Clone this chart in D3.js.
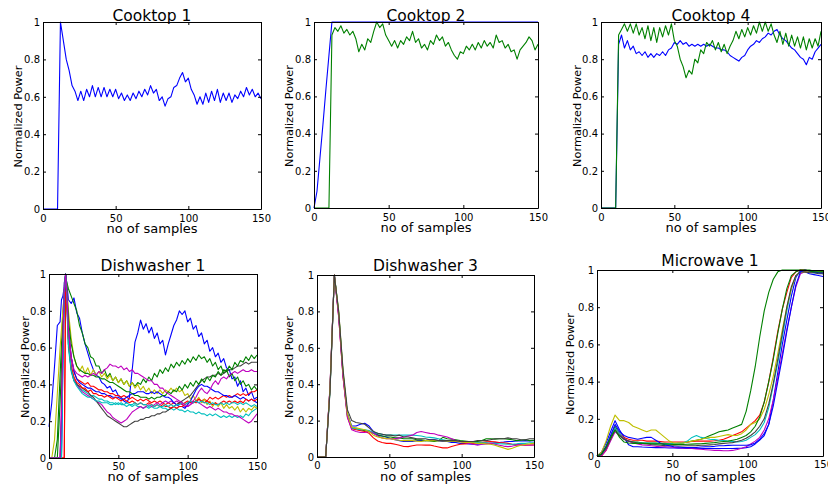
<!DOCTYPE html>
<html>
<head>
<meta charset="utf-8">
<script src="https://cdn.jsdelivr.net/npm/d3@7"></script>
<style>
  body { margin: 0; background: #fff; }
  svg { display: block; }
  text { font-family: "DejaVu Sans", sans-serif; fill: #000; }
</style>
</head>
<body>
<script>
// sample index grids (x positions of the values below)
var cooktopSamples = d3.range(0, 151, 2);
var dw1Samples = [0, 2, 4, 6, 8, 9, 10, 11, 12, 13].concat(d3.range(14, 151, 2));
var step3Samples = d3.range(0, 151, 3);

var xTicks = [0, 50, 100, 150];
var yTicks = [0, 0.2, 0.4, 0.6, 0.8, 1];

// ---- Cooktop 1
var cooktop1Blue = [0,0,0,0,0,0,1.0,0.9,0.8,0.74,
  0.66,0.63,0.58,0.63,0.58,0.64,0.6,0.66,0.6,0.65,
  0.6,0.65,0.6,0.64,0.6,0.64,0.59,0.62,0.58,0.61,
  0.58,0.62,0.59,0.63,0.6,0.64,0.61,0.66,0.62,0.64,
  0.58,0.6,0.55,0.59,0.6,0.65,0.66,0.7,0.73,0.68,
  0.7,0.64,0.61,0.56,0.6,0.56,0.62,0.57,0.63,0.58,
  0.64,0.57,0.62,0.58,0.62,0.57,0.61,0.59,0.63,0.6,
  0.65,0.61,0.64,0.6,0.62,0.59];

// ---- Cooktop 2
var cooktop2Blue = [0,0.09,0.27,0.45,0.64,0.82,1,1,1,1,
  1,1,1,1,1,1,1,1,1,1,
  1,1,1,1,1,1,1,1,1,1,
  1,1,1,1,1,1,1,1,1,1,
  1,1,1,1,1,1,1,1,1,1,
  1,1,1,1,1,1,1,1,1,1,
  1,1,1,1,1,1,1,1,1,1,
  1,1,1,1,1,1];
var cooktop2Green = [0,0,0,0,0,0,0.93,0.97,0.95,0.98,
  0.94,0.96,0.93,0.95,0.91,0.84,0.88,0.85,0.91,0.89,
  0.95,1.0,0.97,0.99,0.93,0.9,0.87,0.9,0.86,0.9,
  0.88,0.92,0.9,0.95,0.89,0.91,0.86,0.88,0.85,0.9,
  0.88,0.93,0.9,0.92,0.87,0.89,0.85,0.82,0.8,0.84,
  0.83,0.87,0.85,0.88,0.85,0.89,0.86,0.9,0.87,0.89,
  0.86,0.93,0.89,0.9,0.86,0.88,0.84,0.85,0.8,0.85,
  0.87,0.89,0.92,0.9,0.85,0.88];

// ---- Cooktop 4
var cooktop4Blue = [0,0,0,0,0,0,0.88,0.93,0.86,0.9,
  0.85,0.87,0.83,0.84,0.82,0.84,0.81,0.83,0.81,0.83,
  0.82,0.84,0.82,0.85,0.86,0.89,0.88,0.9,0.88,0.89,
  0.87,0.88,0.87,0.88,0.87,0.88,0.87,0.88,0.87,0.86,
  0.86,0.85,0.85,0.84,0.82,0.81,0.8,0.79,0.81,0.82,
  0.85,0.87,0.88,0.9,0.89,0.91,0.92,0.94,0.93,0.95,
  0.96,0.93,0.91,0.9,0.88,0.86,0.85,0.83,0.81,0.8,
  0.77,0.81,0.8,0.84,0.86,0.88];
var cooktop4Green = [0,0,0,0,0,0,0.93,0.96,0.99,0.95,
  0.99,0.94,0.99,0.93,0.97,0.91,0.98,0.9,0.97,0.89,
  0.97,0.92,0.98,0.93,0.99,0.9,0.87,0.8,0.76,0.7,
  0.74,0.72,0.8,0.78,0.85,0.83,0.89,0.87,0.9,0.85,
  0.89,0.84,0.88,0.83,0.87,0.9,0.95,0.91,0.96,0.92,
  0.97,0.93,0.98,0.94,1.0,0.95,1.0,0.95,0.99,0.93,
  0.89,0.95,0.88,0.94,0.87,0.93,0.87,0.92,0.86,0.92,
  0.85,0.91,0.86,0.91,0.87,0.95];

// ---- Dishwasher 1
var dw1BlueA = [0.17,0.3,0.5,0.72,0.74,0.86,0.88,0.93,1.0,0.94,
  0.86,0.84,0.87,0.79,0.76,0.68,0.62,0.57,0.52,0.48,
  0.45,0.44,0.41,0.4,0.38,0.39,0.36,0.37,0.34,0.33,
  0.31,0.3,0.33,0.48,0.63,0.68,0.75,0.7,0.73,0.68,
  0.71,0.65,0.68,0.62,0.64,0.56,0.62,0.67,0.72,0.75,
  0.8,0.78,0.8,0.74,0.76,0.7,0.72,0.66,0.68,0.62,
  0.64,0.58,0.6,0.55,0.57,0.52,0.54,0.49,0.48,0.43,
  0.44,0.39,0.42,0.36,0.38,0.34,0.36,0.32,0.33];
var dw1GreenA = [0,0,0,0.1,0.45,0.62,0.78,0.9,0.98,0.95,
  0.92,0.88,0.84,0.8,0.72,0.68,0.62,0.6,0.55,0.54,
  0.5,0.5,0.46,0.48,0.44,0.46,0.42,0.44,0.41,0.43,
  0.4,0.42,0.39,0.41,0.39,0.41,0.4,0.43,0.41,0.44,
  0.42,0.46,0.44,0.48,0.46,0.49,0.47,0.51,0.49,0.52,
  0.5,0.53,0.51,0.54,0.52,0.55,0.53,0.56,0.54,0.55,
  0.52,0.54,0.5,0.52,0.48,0.5,0.46,0.48,0.44,0.46,
  0.42,0.44,0.4,0.42,0.39,0.4,0.37,0.39,0.37];
var dw1RedA = [0,0,0,0,0,0,0,0,1.0,0.85,
  0.7,0.55,0.47,0.43,0.42,0.41,0.4,0.41,0.39,0.39,
  0.38,0.37,0.37,0.36,0.36,0.35,0.35,0.34,0.34,0.33,
  0.34,0.33,0.32,0.33,0.32,0.31,0.32,0.31,0.32,0.31,
  0.3,0.31,0.3,0.31,0.3,0.29,0.3,0.29,0.3,0.29,
  0.3,0.29,0.3,0.31,0.3,0.31,0.3,0.32,0.31,0.32,
  0.31,0.33,0.32,0.33,0.32,0.33,0.34,0.33,0.34,0.33,
  0.34,0.35,0.34,0.35,0.34,0.35,0.36,0.36,0.37];
var dw1CyanA = [0,0,0,0,0,0,0.6,0.95,1.0,0.8,
  0.6,0.47,0.42,0.4,0.38,0.37,0.36,0.35,0.34,0.34,
  0.33,0.32,0.32,0.31,0.31,0.3,0.3,0.29,0.3,0.29,
  0.29,0.28,0.29,0.28,0.29,0.28,0.28,0.27,0.28,0.27,
  0.28,0.27,0.27,0.28,0.27,0.27,0.26,0.27,0.26,0.27,
  0.26,0.26,0.25,0.26,0.25,0.25,0.24,0.25,0.24,0.24,
  0.23,0.24,0.23,0.24,0.23,0.22,0.23,0.22,0.23,0.22,
  0.23,0.22,0.23,0.22,0.24,0.23,0.25,0.26,0.27];
var dw1MagentaA = [0,0,0,0,0,0.3,0.7,0.95,1.0,0.85,
  0.65,0.5,0.43,0.4,0.38,0.36,0.35,0.34,0.33,0.32,
  0.31,0.3,0.29,0.27,0.25,0.24,0.22,0.21,0.2,0.19,
  0.2,0.21,0.23,0.25,0.26,0.27,0.28,0.27,0.28,0.29,
  0.28,0.29,0.3,0.29,0.3,0.31,0.3,0.31,0.3,0.31,
  0.3,0.29,0.28,0.28,0.29,0.3,0.31,0.3,0.29,0.28,
  0.27,0.28,0.27,0.26,0.27,0.26,0.25,0.25,0.24,0.24,
  0.23,0.23,0.22,0.21,0.2,0.19,0.2,0.22,0.24];
var dw1Yellow = [0,0,0.1,0.35,0.6,0.7,0.8,0.9,1.0,0.92,
  0.8,0.65,0.55,0.5,0.47,0.5,0.46,0.49,0.45,0.48,
  0.45,0.47,0.44,0.46,0.43,0.45,0.42,0.44,0.41,0.43,
  0.4,0.42,0.39,0.41,0.38,0.4,0.37,0.39,0.36,0.38,
  0.35,0.37,0.35,0.37,0.35,0.37,0.36,0.38,0.36,0.38,
  0.36,0.37,0.34,0.35,0.32,0.34,0.31,0.33,0.3,0.32,
  0.29,0.31,0.28,0.3,0.28,0.3,0.27,0.29,0.27,0.28,
  0.26,0.28,0.25,0.27,0.25,0.27,0.26,0.28,0.27];
var dw1Gray = [0,0,0,0,0,0.2,0.6,0.9,1.0,0.85,
  0.62,0.48,0.42,0.4,0.39,0.38,0.37,0.36,0.34,0.33,
  0.31,0.29,0.27,0.25,0.23,0.22,0.21,0.2,0.19,0.18,
  0.17,0.17,0.18,0.19,0.2,0.2,0.21,0.21,0.22,0.22,
  0.23,0.23,0.24,0.24,0.25,0.25,0.26,0.27,0.28,0.29,
  0.3,0.31,0.32,0.33,0.34,0.36,0.38,0.4,0.42,0.43,
  0.44,0.44,0.45,0.45,0.46,0.45,0.46,0.47,0.48,0.48,
  0.49,0.5,0.5,0.51,0.52,0.51,0.52,0.52,0.52];
var dw1BlueB = [0,0,0,0,0,0,0.5,0.9,1.0,0.9,
  0.7,0.55,0.47,0.43,0.41,0.4,0.39,0.38,0.38,0.37,
  0.36,0.36,0.35,0.35,0.34,0.34,0.33,0.33,0.33,0.32,
  0.32,0.33,0.34,0.35,0.35,0.36,0.36,0.36,0.35,0.35,
  0.36,0.35,0.36,0.35,0.34,0.33,0.33,0.32,0.3,0.29,
  0.28,0.28,0.27,0.29,0.31,0.34,0.37,0.39,0.4,0.39,
  0.39,0.38,0.37,0.36,0.36,0.35,0.34,0.34,0.33,0.33,
  0.34,0.33,0.32,0.33,0.32,0.31,0.32,0.31,0.3];
var dw1GreenB = [0,0,0,0,0.3,0.5,0.7,0.85,1.0,0.9,
  0.75,0.62,0.55,0.5,0.48,0.47,0.46,0.46,0.45,0.45,
  0.44,0.44,0.43,0.43,0.42,0.41,0.41,0.4,0.39,0.38,
  0.37,0.36,0.36,0.35,0.34,0.34,0.33,0.33,0.33,0.32,
  0.33,0.32,0.33,0.33,0.34,0.34,0.36,0.35,0.37,0.36,
  0.39,0.37,0.4,0.38,0.41,0.39,0.42,0.4,0.43,0.41,
  0.44,0.42,0.45,0.44,0.47,0.45,0.48,0.47,0.5,0.48,
  0.52,0.5,0.53,0.52,0.55,0.53,0.56,0.54,0.56];
var dw1RedB = [0,0,0,0,0,0,0,0,0.9,0.8,
  0.65,0.5,0.44,0.41,0.4,0.38,0.38,0.36,0.37,0.35,
  0.35,0.34,0.34,0.33,0.34,0.33,0.32,0.33,0.32,0.31,
  0.32,0.31,0.3,0.31,0.3,0.29,0.3,0.29,0.29,0.3,
  0.29,0.28,0.29,0.28,0.29,0.28,0.28,0.27,0.28,0.27,
  0.28,0.28,0.29,0.3,0.31,0.3,0.31,0.32,0.31,0.3,
  0.31,0.3,0.29,0.3,0.29,0.3,0.31,0.3,0.31,0.3,
  0.31,0.3,0.31,0.3,0.32,0.31,0.32,0.31,0.32];
var dw1CyanB = [0,0,0,0,0,0,0.5,0.9,1.0,0.85,
  0.62,0.48,0.42,0.39,0.37,0.35,0.34,0.33,0.33,0.32,
  0.31,0.31,0.3,0.3,0.3,0.29,0.29,0.3,0.29,0.3,
  0.29,0.3,0.29,0.29,0.3,0.29,0.3,0.29,0.29,0.28,
  0.29,0.28,0.29,0.28,0.28,0.29,0.28,0.29,0.28,0.29,
  0.29,0.3,0.29,0.3,0.31,0.3,0.31,0.3,0.31,0.3,
  0.3,0.29,0.3,0.29,0.29,0.3,0.29,0.3,0.29,0.3,
  0.3,0.29,0.3,0.29,0.3,0.29,0.28,0.29,0.28];
var dw1MagentaB = [0,0,0,0,0,0.25,0.65,0.9,1.0,0.88,
  0.7,0.55,0.48,0.46,0.45,0.44,0.45,0.44,0.45,0.46,
  0.45,0.47,0.46,0.48,0.49,0.51,0.5,0.5,0.49,0.5,
  0.48,0.49,0.47,0.48,0.46,0.46,0.45,0.44,0.43,0.42,
  0.42,0.4,0.4,0.38,0.38,0.36,0.35,0.34,0.33,0.32,
  0.31,0.3,0.29,0.28,0.29,0.31,0.33,0.36,0.38,0.36,
  0.35,0.37,0.4,0.42,0.4,0.43,0.44,0.43,0.45,0.46,
  0.47,0.46,0.47,0.48,0.47,0.47,0.48,0.47,0.47];

// ---- Dishwasher 3
var dw3Blue = [0,0,0,0.38,1.0,0.78,0.45,0.24,0.17,0.17,
  0.18,0.185,0.17,0.14,0.12,0.115,0.11,0.1,0.095,0.09,
  0.085,0.085,0.085,0.09,0.09,0.09,0.095,0.095,0.09,0.085,
  0.085,0.08,0.08,0.075,0.075,0.072,0.07,0.07,0.072,0.075,
  0.075,0.078,0.08,0.082,0.085,0.085,0.088,0.088,0.09,0.088,
  0.09];
var dw3Green = [0,0,0,0.37,1.0,0.79,0.46,0.23,0.16,0.155,
  0.15,0.145,0.14,0.13,0.12,0.115,0.11,0.11,0.105,0.105,
  0.1,0.1,0.1,0.095,0.095,0.09,0.088,0.085,0.09,0.108,
  0.1,0.098,0.095,0.09,0.088,0.085,0.085,0.085,0.09,0.1,
  0.1,0.098,0.1,0.1,0.098,0.095,0.09,0.092,0.095,0.09,
  0.092];
var dw3Red = [0,0,0,0.38,1.0,0.77,0.44,0.22,0.155,0.15,
  0.145,0.14,0.13,0.105,0.088,0.08,0.075,0.075,0.07,0.065,
  0.058,0.057,0.062,0.066,0.066,0.065,0.066,0.06,0.055,0.05,
  0.05,0.058,0.065,0.07,0.072,0.075,0.075,0.078,0.08,0.083,
  0.085,0.083,0.08,0.078,0.075,0.07,0.068,0.066,0.065,0.066,
  0.066];
var dw3Cyan = [0,0,0,0.37,1.0,0.79,0.46,0.23,0.16,0.155,
  0.15,0.15,0.145,0.135,0.13,0.125,0.12,0.12,0.12,0.12,
  0.12,0.12,0.12,0.118,0.115,0.11,0.108,0.105,0.1,0.095,
  0.09,0.088,0.085,0.085,0.082,0.08,0.08,0.08,0.078,0.078,
  0.075,0.075,0.073,0.072,0.07,0.07,0.072,0.075,0.075,0.078,
  0.078];
var dw3Magenta = [0,0,0,0.39,1.0,0.77,0.44,0.22,0.15,0.14,
  0.135,0.135,0.14,0.13,0.115,0.105,0.1,0.1,0.1,0.105,
  0.11,0.115,0.12,0.135,0.14,0.135,0.13,0.128,0.12,0.115,
  0.11,0.1,0.09,0.085,0.08,0.075,0.07,0.065,0.07,0.072,
  0.075,0.07,0.065,0.06,0.057,0.06,0.065,0.068,0.066,0.065,
  0.066];
var dw3Yellow = [0,0,0,0.38,1.0,0.8,0.47,0.24,0.165,0.16,
  0.155,0.15,0.14,0.12,0.11,0.105,0.1,0.1,0.095,0.092,
  0.09,0.09,0.09,0.087,0.085,0.09,0.09,0.09,0.09,0.088,
  0.087,0.085,0.085,0.083,0.08,0.08,0.078,0.075,0.075,0.072,
  0.07,0.065,0.057,0.05,0.042,0.048,0.058,0.065,0.07,0.072,
  0.075];
var dw3Gray = [0,0,0,0.36,1.0,0.8,0.48,0.26,0.2,0.19,
  0.185,0.18,0.16,0.14,0.13,0.125,0.12,0.12,0.115,0.12,
  0.11,0.11,0.105,0.1,0.1,0.1,0.095,0.095,0.09,0.09,
  0.09,0.09,0.09,0.085,0.085,0.085,0.085,0.09,0.09,0.09,
  0.095,0.1,0.1,0.1,0.105,0.1,0.1,0.095,0.095,0.1,
  0.1];

// ---- Microwave 1
var mwBlueA = [0,0.02,0.07,0.13,0.19,0.14,0.1,0.06,0.05,0.05,
  0.048,0.047,0.046,0.045,0.045,0.044,0.043,0.043,0.042,0.042,
  0.041,0.04,0.04,0.04,0.04,0.04,0.04,0.04,0.04,0.04,
  0.04,0.041,0.042,0.045,0.05,0.065,0.085,0.11,0.17,0.3,
  0.45,0.6,0.73,0.86,0.96,1.0,0.99,0.98,0.975,0.97,
  0.965];
var mwGreenA = [0,0.01,0.05,0.1,0.16,0.12,0.09,0.08,0.075,0.075,
  0.07,0.07,0.07,0.07,0.068,0.068,0.065,0.065,0.068,0.07,
  0.075,0.08,0.085,0.09,0.1,0.11,0.12,0.13,0.135,0.14,
  0.15,0.16,0.17,0.24,0.35,0.48,0.64,0.78,0.88,0.95,
  0.99,1.0,1.0,1.0,1.0,1.0,1.0,1.0,0.995,0.995,
  0.99];
var mwRed = [0,0,0.03,0.09,0.15,0.12,0.1,0.09,0.085,0.085,
  0.085,0.08,0.08,0.08,0.078,0.075,0.075,0.075,0.075,0.075,
  0.075,0.078,0.08,0.08,0.08,0.08,0.082,0.085,0.09,0.1,
  0.11,0.12,0.13,0.15,0.17,0.19,0.22,0.29,0.4,0.53,
  0.67,0.79,0.88,0.96,0.99,1.0,1.0,0.995,0.99,0.985,
  0.98];
var mwCyan = [0,0.01,0.05,0.1,0.15,0.12,0.09,0.08,0.075,0.072,
  0.07,0.07,0.068,0.068,0.066,0.065,0.065,0.066,0.068,0.07,
  0.08,0.1,0.11,0.1,0.095,0.09,0.088,0.085,0.083,0.08,
  0.078,0.076,0.078,0.085,0.1,0.115,0.14,0.18,0.26,0.38,
  0.5,0.64,0.78,0.9,0.97,0.99,0.99,0.99,0.985,0.985,
  0.98];
var mwMagenta = [0,0,0.03,0.08,0.13,0.11,0.09,0.08,0.07,0.065,
  0.06,0.058,0.055,0.052,0.05,0.05,0.048,0.046,0.045,0.043,
  0.042,0.04,0.038,0.036,0.034,0.032,0.03,0.03,0.028,0.028,
  0.03,0.035,0.042,0.05,0.065,0.08,0.1,0.14,0.2,0.3,
  0.42,0.55,0.68,0.8,0.91,0.98,0.99,0.99,0.99,0.985,
  0.985];
var mwYellow = [0,0.02,0.08,0.16,0.22,0.19,0.19,0.18,0.16,0.15,
  0.14,0.13,0.14,0.14,0.12,0.1,0.08,0.07,0.07,0.07,
  0.075,0.08,0.085,0.09,0.095,0.1,0.1,0.105,0.11,0.115,
  0.11,0.11,0.12,0.14,0.17,0.18,0.2,0.25,0.33,0.43,
  0.55,0.68,0.8,0.9,0.97,0.99,0.99,0.99,0.99,0.99,
  0.99];
var mwGray = [0,0.01,0.04,0.09,0.14,0.11,0.09,0.08,0.075,0.07,
  0.068,0.065,0.062,0.06,0.058,0.056,0.055,0.055,0.054,0.054,
  0.055,0.055,0.056,0.058,0.058,0.06,0.062,0.065,0.068,0.07,
  0.072,0.078,0.085,0.095,0.11,0.13,0.16,0.2,0.28,0.39,
  0.52,0.66,0.8,0.91,0.97,0.99,0.99,0.985,0.985,0.98,
  0.98];
var mwBlueB = [0,0.01,0.05,0.11,0.17,0.13,0.11,0.1,0.095,0.09,
  0.095,0.1,0.1,0.085,0.07,0.06,0.055,0.05,0.048,0.046,
  0.045,0.045,0.046,0.048,0.05,0.05,0.052,0.055,0.055,0.057,
  0.058,0.058,0.058,0.058,0.06,0.07,0.09,0.12,0.17,0.27,
  0.4,0.53,0.67,0.8,0.92,0.99,1.0,0.995,0.99,0.985,
  0.985];
var mwGreenB = [0,0.01,0.05,0.1,0.14,0.1,0.075,0.07,0.068,0.068,
  0.068,0.067,0.066,0.065,0.065,0.064,0.063,0.062,0.062,0.062,
  0.063,0.064,0.065,0.066,0.068,0.07,0.072,0.075,0.078,0.08,
  0.085,0.09,0.1,0.11,0.13,0.16,0.21,0.29,0.4,0.52,
  0.66,0.79,0.9,0.97,0.99,1.0,1.0,0.995,0.99,0.99,
  0.99];

// matlab line colours
var c = {
  b: "#0000ff", g: "#008000", r: "#ff0000", cy: "#00bfbf",
  m: "#bf00bf", y: "#bfbf00", k: "#404040"
};

var panels = [
  { title: "Cooktop 1", samples: cooktopSamples,
    series: [[cooktop1Blue, c.b]],
    left: 43, right: 261, top: 22, bottom: 209, titleY: 20.5, ylabX: 21.5, xlabDy: 24, tickPad: 6 },
  { title: "Cooktop 2", samples: cooktopSamples,
    series: [[cooktop2Blue, c.b], [cooktop2Green, c.g]],
    left: 314, right: 538, top: 22, bottom: 208, titleY: 20.5, ylabX: 292.5, xlabDy: 24, tickPad: 6 },
  { title: "Cooktop 4", samples: cooktopSamples,
    series: [[cooktop4Blue, c.b], [cooktop4Green, c.g]],
    left: 601, right: 821, top: 22, bottom: 208, titleY: 20.5, ylabX: 581, xlabDy: 24, tickPad: 6 },
  { title: "Dishwasher 1", samples: dw1Samples,
    series: [[dw1BlueA, c.b], [dw1GreenA, c.g], [dw1RedA, c.r], [dw1CyanA, c.cy],
             [dw1MagentaA, c.m], [dw1Yellow, c.y], [dw1Gray, c.k], [dw1BlueB, c.b],
             [dw1GreenB, c.g], [dw1RedB, c.r], [dw1CyanB, c.cy], [dw1MagentaB, c.m]],
    left: 49, right: 257, top: 274, bottom: 458, titleY: 270.5, ylabX: 29.3, xlabDy: 22.5, tickPad: 5 },
  { title: "Dishwasher 3", samples: step3Samples,
    series: [[dw3Blue, c.b], [dw3Green, c.g], [dw3Red, c.r], [dw3Cyan, c.cy],
             [dw3Magenta, c.m], [dw3Yellow, c.y], [dw3Gray, c.k]],
    left: 317, right: 534, top: 275, bottom: 457, titleY: 270.5, ylabX: 292.7, xlabDy: 23.5, tickPad: 5 },
  { title: "Microwave 1", samples: step3Samples,
    series: [[mwBlueA, c.b], [mwGreenA, c.g], [mwRed, c.r], [mwCyan, c.cy],
             [mwMagenta, c.m], [mwYellow, c.y], [mwGray, c.k], [mwBlueB, c.b],
             [mwGreenB, c.g]],
    left: 597, right: 823, top: 270, bottom: 456, titleY: 266, ylabX: 574.3, xlabDy: 24.5, tickPad: 5 }
];

var svg = d3.select("body").append("svg")
  .attr("width", 828)
  .attr("height", 485);

svg.append("rect").attr("width", 828).attr("height", 485).attr("fill", "#fff");

panels.forEach(function (p) {
  var x = d3.scaleLinear().domain([0, 150]).range([p.left, p.right]);
  var y = d3.scaleLinear().domain([0, 1]).range([p.bottom, p.top]);
  var g = svg.append("g");

  var line = d3.line()
    .x(function (d, i) { return x(p.samples[i]); })
    .y(function (d) { return y(d); });

  p.series.forEach(function (s) {
    g.append("path")
      .datum(s[0])
      .attr("fill", "none")
      .attr("stroke", s[1])
      .attr("stroke-width", 1.1)
      .attr("stroke-linejoin", "round")
      .attr("d", line);
  });

  var fmt = d3.format("~g");

  // box with inward ticks on every side
  var bottomAx = g.append("g")
    .attr("transform", "translate(0," + p.bottom + ")")
    .call(d3.axisBottom(x).tickValues(xTicks).tickSizeInner(-3).tickSizeOuter(0).tickPadding(p.tickPad).tickFormat(fmt));
  var topAx = g.append("g")
    .attr("transform", "translate(0," + p.top + ")")
    .call(d3.axisTop(x).tickValues(xTicks).tickSizeInner(-3).tickSizeOuter(0).tickFormat(""));
  var leftAx = g.append("g")
    .attr("transform", "translate(" + p.left + ",0)")
    .call(d3.axisLeft(y).tickValues(yTicks).tickSizeInner(-3).tickSizeOuter(0).tickPadding(3).tickFormat(fmt));
  var rightAx = g.append("g")
    .attr("transform", "translate(" + p.right + ",0)")
    .call(d3.axisRight(y).tickValues(yTicks).tickSizeInner(-3).tickSizeOuter(0).tickFormat(""));

  [bottomAx, topAx, leftAx, rightAx].forEach(function (ax) {
    ax.selectAll("path, line").attr("stroke", "#000");
    ax.selectAll("text")
      .attr("font-family", "DejaVu Sans, sans-serif")
      .attr("font-size", 10)
      .attr("fill", "#000");
    ax.attr("font-family", null).attr("font-size", null);
  });

  var cx = (p.left + p.right) / 2;
  var cy = (p.top + p.bottom) / 2;

  g.append("text")
    .attr("x", cx)
    .attr("y", p.titleY)
    .attr("text-anchor", "middle")
    .attr("font-size", 15.5)
    .text(p.title);

  g.append("text")
    .attr("x", cx)
    .attr("y", p.bottom + p.xlabDy)
    .attr("text-anchor", "middle")
    .attr("font-size", 13)
    .text("no of samples");

  g.append("text")
    .attr("transform", "translate(" + p.ylabX + "," + (cy + 1) + ") rotate(-90)")
    .attr("text-anchor", "middle")
    .attr("font-size", 11.3)
    .text("Normalized Power");
});
</script>
</body>
</html>
